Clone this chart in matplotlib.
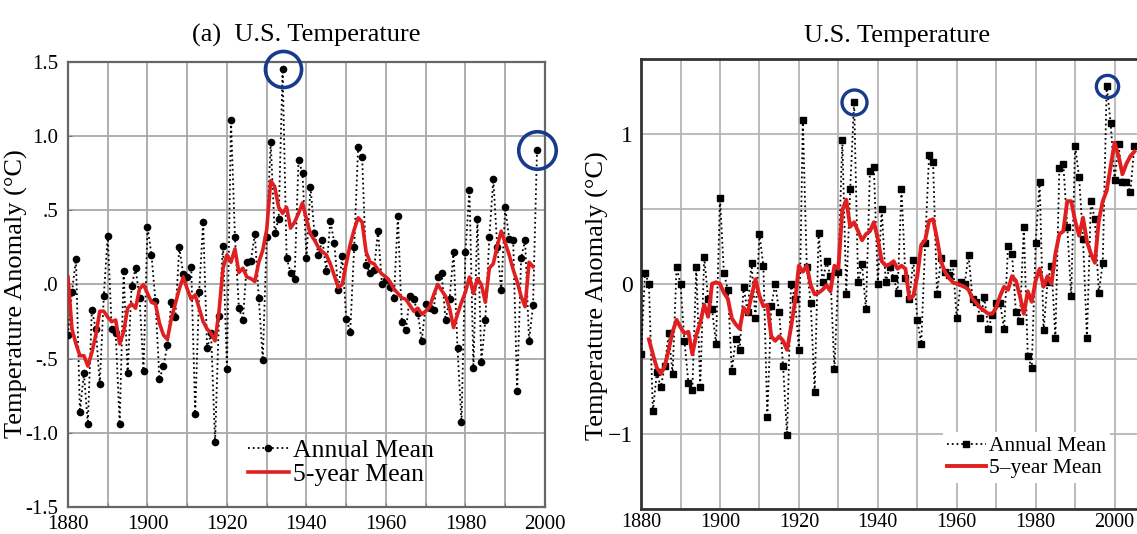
import numpy as np
import matplotlib
matplotlib.use("Agg")
import matplotlib.pyplot as plt

# ---- panel (a): older version, 1880-1998 ----
years_a = list(range(1880, 1999))
annual_a = [
    -0.34, -0.05, 0.17, -0.86, -0.60, -0.94, -0.17, -0.30, -0.67, -0.08,
    0.33, -0.30, -0.33, -0.94, 0.09, -0.60, -0.01, 0.11, -0.09, -0.58,
    0.39, 0.20, -0.11, -0.64, -0.55, -0.41, -0.12, -0.22, 0.25, 0.07,
    0.05, 0.12, -0.87, -0.05, 0.42, -0.43, -0.33, -1.06, -0.21, 0.26,
    -0.57, 1.11, 0.32, -0.16, -0.24, 0.15, 0.16, 0.34, -0.09, -0.51,
    0.32, 0.96, 0.35, 0.44, 1.45, 0.18, 0.08, 0.04, 0.84, 0.75,
    0.18, 0.66, 0.35, 0.20, 0.30, 0.09, 0.43, 0.28, -0.04, 0.19,
    -0.23, -0.32, 0.25, 0.93, 0.86, 0.13, 0.08, 0.10, 0.36, 0.00,
    0.03, -0.02, -0.09, 0.46, -0.25, -0.31, -0.08, -0.10, -0.19, -0.38,
    -0.13, -0.16, -0.17, 0.05, 0.08, -0.24, -0.10, 0.22, -0.43, -0.93,
    0.22, 0.64, -0.56, 0.44, -0.52, -0.24, 0.32, 0.71, 0.25, -0.04,
    0.52, 0.31, 0.30, -0.72, 0.18, 0.30, -0.38, -0.14, 0.91,
]
years_a5 = list(range(1880, 1998))
mean5_a = [
    0.05, -0.30, -0.40, -0.48, -0.48, -0.55, -0.46, -0.34, -0.18, -0.18,
    -0.22, -0.25, -0.24, -0.40, -0.32, -0.16, -0.13, -0.16, -0.03, 0.00,
    -0.06, -0.12, -0.13, -0.26, -0.34, -0.37, -0.23, -0.13, -0.03, 0.05,
    -0.03, -0.10, -0.07, -0.16, -0.25, -0.30, -0.33, -0.38, -0.18, 0.11,
    0.20, 0.15, 0.24, 0.08, 0.11, 0.05, 0.04, 0.02, 0.15, 0.23,
    0.37, 0.70, 0.66, 0.52, 0.48, 0.52, 0.38, 0.42, 0.48, 0.55,
    0.44, 0.34, 0.30, 0.25, 0.22, 0.20, 0.14, 0.06, -0.02, 0.00,
    0.14, 0.27, 0.37, 0.45, 0.42, 0.22, 0.15, 0.14, 0.10, 0.07,
    0.05, 0.02, -0.03, -0.06, -0.09, -0.10, -0.14, -0.18, -0.16, -0.20,
    -0.18, -0.15, -0.07, 0.00, -0.04, -0.08, -0.16, -0.29, -0.20, -0.12,
    -0.05, 0.05, -0.06, 0.04, 0.00, -0.12, 0.11, 0.14, 0.26, 0.36,
    0.28, 0.20, 0.10, 0.02, -0.08, -0.15, 0.15, 0.12,
]

# ---- panel (b): newer version, 1880-2005 ----
years_b = list(range(1880, 2006))
annual_b = [
    -0.47, 0.07, 0.00, -0.85, -0.59, -0.69, -0.55, -0.33, -0.60, 0.11,
    0.00, -0.38, -0.66, -0.71, 0.11, -0.69, 0.18, -0.10, -0.17, -0.40,
    0.57, 0.07, -0.04, -0.58, -0.37, -0.44, -0.02, -0.19, 0.14, -0.23,
    0.33, 0.12, -0.89, -0.15, 0.00, -0.19, -0.55, -1.01, 0.00, -0.10,
    -0.44, 1.09, 0.11, -0.13, -0.72, 0.34, 0.01, 0.15, 0.05, -0.57,
    0.08, 0.96, -0.07, 0.63, 1.21, 0.01, 0.13, -0.17, 0.75, 0.78,
    0.00, 0.50, 0.01, 0.11, 0.04, -0.06, 0.63, 0.04, -0.10, 0.16,
    -0.24, -0.40, 0.27, 0.86, 0.81, -0.07, 0.17, 0.08, 0.06, 0.14,
    -0.23, 0.01, 0.00, 0.19, -0.10, -0.12, -0.23, -0.09, -0.30, -0.21,
    -0.13, -0.13, -0.30, 0.25, 0.20, -0.19, -0.25, 0.38, -0.48, -0.56,
    0.27, 0.68, -0.31, 0.01, 0.12, -0.36, 0.77, 0.80, 0.38, -0.08,
    0.92, 0.71, 0.30, -0.36, 0.55, 0.43, -0.06, 0.14, 1.32, 1.07,
    0.69, 0.93, 0.68, 0.68, 0.61, 0.92,
]
years_b5 = list(range(1882, 2006))
mean5_b = [
    -0.37, -0.47, -0.56, -0.60, -0.55, -0.44, -0.32, -0.24,
    -0.29, -0.33, -0.32, -0.47, -0.34, -0.26, -0.14, -0.22, 0.00, 0.01,
    0.00, -0.06, -0.10, -0.23, -0.27, -0.30, -0.16, -0.20, -0.08, 0.03,
    -0.08, -0.15, -0.14, -0.35, -0.38, -0.35, -0.38, -0.44, -0.29, -0.12,
    0.12, 0.08, 0.12, -0.01, -0.07, -0.06, -0.04, -0.01, -0.05, 0.12,
    0.10, 0.49, 0.56, 0.38, 0.41, 0.35, 0.29, 0.33, 0.35, 0.41,
    0.30, 0.15, 0.12, 0.13, 0.15, 0.10, 0.12, 0.10, -0.10, -0.08,
    0.05, 0.26, 0.29, 0.42, 0.43, 0.30, 0.15, 0.08, 0.04, 0.01,
    0.00, -0.01, -0.02, -0.04, -0.10, -0.13, -0.16, -0.18, -0.20, -0.20,
    -0.16, -0.08, -0.02, -0.04, 0.05, 0.02, -0.08, -0.20, -0.05, -0.12,
    0.02, 0.10, -0.02, 0.05, 0.00, 0.20, 0.33, 0.35, 0.55, 0.55,
    0.42, 0.32, 0.44, 0.28, 0.20, 0.14, 0.42, 0.55, 0.62, 0.78,
    0.94, 0.85, 0.73, 0.80, 0.85, 0.88,
]

circle_years_a = [1934, 1998]
circle_years_b = [1934, 1998]

RED = "#e02020"
NAVY = "#163a8c"
plt.rcParams["font.family"] = ["Liberation Serif", "DejaVu Serif"]

fig = plt.figure(figsize=(11.37, 5.34), dpi=100)

# ---------------- left panel ----------------
ax1 = fig.add_axes([0.0598, 0.0506, 0.4195, 0.8333])
ax1.plot(years_a, annual_a, color="black", ls=":", lw=1.3, marker="o", ms=4.5,
         label="Annual Mean", zorder=3)
ax1.plot(years_a5, mean5_a, color=RED, lw=2.6, label="5-year Mean", zorder=4)
for yr in circle_years_a:
    v = annual_a[years_a.index(yr)]
    ax1.plot([yr], [v], marker="o", ms=26 if yr == 1934 else 27, mfc="none",
             mec=NAVY, mew=2.6, clip_on=False, zorder=5)
ax1.set_xlim(1880, 2000)
ax1.set_ylim(-1.5, 1.5)
ax1.set_xticks(range(1880, 2001, 10))
ax1.set_xticklabels([str(y) if y % 20 == 0 else "" for y in range(1880, 2001, 10)],
                    fontsize=15)
ax1.set_yticks([-1.5, -1.0, -0.5, 0, 0.5, 1.0, 1.5])
ax1.set_yticklabels(["-1.5", "-1.0", "-.5", ".0", ".5", "1.0", "1.5"], fontsize=15)
ax1.grid(True, color="#a8a8a8", lw=1.3)
ax1.set_axisbelow(True)
ax1.tick_params(direction="in", length=3, pad=6, color="#777")
ax1.tick_params(axis="y", pad=7)
for s in ax1.spines.values():
    s.set_color("#666")
    s.set_linewidth(1.6)
ax1.set_title("(a)  U.S. Temperature", fontsize=19, pad=15)
ax1.set_ylabel("Temperature Anomaly (\u00b0C)", fontsize=19)
ax1.yaxis.set_label_coords(-0.083, 0.48)
ax1.legend(loc="center left", bbox_to_anchor=(0.328, 0.10), frameon=False,
           fontsize=18.5, handlelength=1.6, handletextpad=0.15, labelspacing=0.02,
           numpoints=1)

# ---------------- right panel ----------------
ax2 = fig.add_axes([0.5638, 0.0468, 0.4512, 0.8436])
ax2.plot(years_b, annual_b, color="black", ls=":", lw=1.3, marker="s", ms=4.5,
         label="Annual Mean", zorder=3)
ax2.plot(years_b5, mean5_b, color=RED, lw=2.8, label="5\u2013year Mean", zorder=4)
for yr in circle_years_b:
    v = annual_b[years_b.index(yr)]
    ax2.plot([yr], [v], marker="o", ms=18 if yr == 1934 else 16, mfc="none",
             mec=NAVY, mew=2.4, zorder=5)
ax2.set_xlim(1880, 2010)
ax2.set_ylim(-1.5, 1.5)
ax2.set_xticks(range(1880, 2011, 10))
ax2.set_xticklabels([str(y) if y % 20 == 0 else "" for y in range(1880, 2011, 10)],
                    fontsize=14.5)
ax2.set_yticks([-1.5, -1.0, -0.5, 0, 0.5, 1.0, 1.5])
ax2.set_yticklabels(["", "\u22121", "", "0", "", "1", ""], fontsize=17)
ax2.grid(True, color="#b5b5b5", lw=1.3)
ax2.set_axisbelow(True)
ax2.tick_params(length=0, pad=6)
ax2.tick_params(axis="x", pad=3)
for s in ax2.spines.values():
    s.set_color("#333")
    s.set_linewidth(2.0)
ax2.set_title("U.S. Temperature", fontsize=19, pad=12)
ax2.set_ylabel("Temperature Anomaly (\u00b0C)", fontsize=19)
ax2.yaxis.set_label_coords(-0.062, 0.473)
leg = ax2.legend(loc="center left", bbox_to_anchor=(0.567, 0.115), frameon=True,
                 fontsize=15.5, handlelength=1.8, handletextpad=0.15,
                 labelspacing=0.1, numpoints=1, borderpad=0.2, fancybox=False)
leg.get_frame().set_edgecolor("none")
leg.get_frame().set_facecolor("white")
leg.get_frame().set_alpha(1)

fig.savefig("out.png", dpi=100)
